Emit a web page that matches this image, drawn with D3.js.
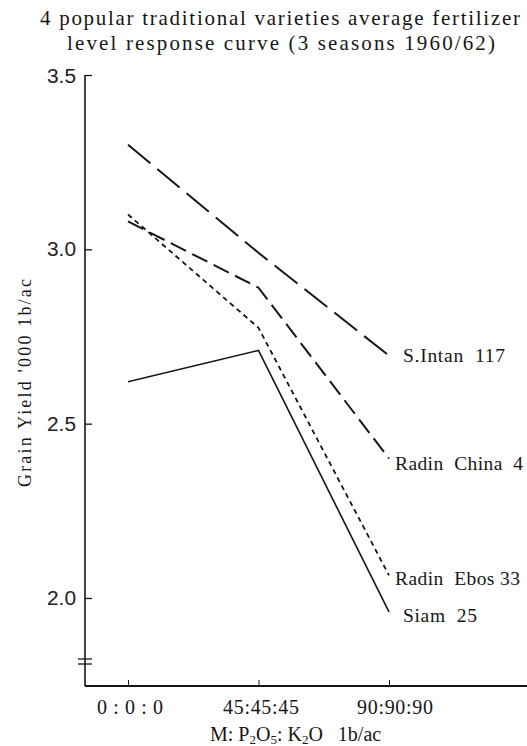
<!DOCTYPE html>
<html><head><meta charset="utf-8">
<script src="https://cdn.jsdelivr.net/npm/d3@7/dist/d3.min.js"></script>
<style>body{margin:0;background:#fff}svg{display:block}</style>
</head><body><svg id="c" width="527" height="746" font-family="'Liberation Serif','DejaVu Serif',serif"></svg>
<script>
const categories = ["0 : 0 : 0", "45:45:45", "90:90:90"];
const yTicks = [2.0, 2.5, 3.0, 3.5];
const yTickLabels = ["2.0", "2.5", "3.0", "3.5"];
const seriesNames = ["S.Intan  117", "Radin  China  4", "Radin  Ebos 33", "Siam  25"];
const sIntan = [3.30, 2.99, 2.695];
const radinChina = [3.08, 2.89, 2.40];
const radinEbos = [3.10, 2.775, 2.065];
const siam = [2.62, 2.71, 1.96];
const title = ["4 popular traditional varieties average fertilizer", "level response curve (3 seasons 1960/62)"];

const svg = d3.select("#c");
const ink = "#161616";
const x = d3.scalePoint().domain(categories).range([128, 389]);
const y = d3.scaleLinear().domain([2.0, 3.5]).range([598, 75]);
const axisX = 85, baseY = 686;

// title
const tpos = [{x: 40, y: 25, w: 480}, {x: 67, y: 50, w: 428}];
svg.selectAll("text.title").data(title).join("text").attr("class","title")
  .attr("x", (d,i)=>tpos[i].x).attr("y", (d,i)=>tpos[i].y)
  .attr("textLength", (d,i)=>tpos[i].w).attr("lengthAdjust","spacing")
  .style("font-size","21px").attr("fill", ink).text(d=>d);

// y axis
const yAxis = d3.axisRight(y).tickValues(yTicks).tickSize(7).tickFormat("");
const gy = svg.append("g").attr("transform",`translate(${axisX},0)`).call(yAxis);
gy.select(".domain").remove();
gy.selectAll("line").attr("stroke",ink).attr("stroke-width",1.3);
svg.append("line").attr("x1",axisX).attr("x2",axisX).attr("y1",y(3.5)).attr("y2",baseY)
  .attr("stroke",ink).attr("stroke-width",1.6);
svg.selectAll("text.yl").data(yTicks).join("text").attr("class","yl")
  .attr("x", axisX-38).attr("y", (d,i)=>y(d)+ (d===3.5?8:7))
  .attr("textLength", 29).attr("lengthAdjust","spacingAndGlyphs")
  .style("font-family","'Liberation Sans','DejaVu Sans',sans-serif").style("font-size","20px")
  .attr("fill", "#222").text((d,i)=>yTickLabels[i]);
// break marks
[659,664].forEach(v=>svg.append("line").attr("x1",78).attr("x2",92).attr("y1",v).attr("y2",v)
  .attr("stroke",ink).attr("stroke-width",1.3));

// x axis
svg.append("line").attr("x1",axisX).attr("x2",527).attr("y1",baseY).attr("y2",baseY)
  .attr("stroke",ink).attr("stroke-width",1.8);
const gx = svg.append("g").attr("transform",`translate(0,${baseY})`)
  .call(d3.axisTop(x).tickSize(6).tickFormat(""));
gx.select(".domain").remove();
gx.selectAll("line").attr("stroke",ink).attr("stroke-width",1);
const xlw = [66, 76, 76];
const xlx = [97, 223, 357];
svg.selectAll("text.xl").data(categories).join("text").attr("class","xl")
  .attr("x", (d,i)=>xlx[i]).attr("y", 714)
  .attr("textLength",(d,i)=>xlw[i]).attr("lengthAdjust","spacing")
  .style("font-size","20px").attr("fill", ink).text(d=>d);

// axis titles
const xt = svg.append("text").attr("x",210).attr("y",741)
  .style("font-size","20px").attr("fill", ink);
xt.append("tspan").text("M: P");
xt.append("tspan").attr("dy",3).style("font-size","13px").text("2");
xt.append("tspan").attr("dy",-3).text("O");
xt.append("tspan").attr("dy",3).style("font-size","13px").text("5");
xt.append("tspan").attr("dy",-3).text(": K");
xt.append("tspan").attr("dy",3).style("font-size","13px").text("2");
xt.append("tspan").attr("dy",-3).text("O\u00a0\u00a0\u00a01b/ac");

svg.append("text").attr("transform","translate(31,487) rotate(-90)")
  .attr("textLength", 208).attr("lengthAdjust","spacing")
  .style("font-size","18px").attr("fill", ink).text("Grain Yield '000 1b/ac");

// series
const series = [
  {name: seriesNames[0], vals: sIntan, dash: "29,9", w: 2, lx: 403, ly: 362, lw: 102},
  {name: seriesNames[1], vals: radinChina, dash: "17,7", w: 2, lx: 395, ly: 470, lw: 128},
  {name: seriesNames[2], vals: radinEbos, dash: "5,4", w: 1.8, lx: 395, ly: 585, lw: 125},
  {name: seriesNames[3], vals: siam, dash: null, w: 1.6, lx: 403, ly: 622, lw: 74}
];
const line = d3.line().x((d,i)=>x(categories[i])).y(d=>y(d));
svg.selectAll("path.s").data(series).join("path").attr("class","s")
  .attr("d", d=>line(d.vals)).attr("fill","none").attr("stroke",ink)
  .attr("stroke-width", d=>d.w).attr("stroke-dasharray", d=>d.dash);
svg.selectAll("text.sl").data(series).join("text").attr("class","sl")
  .attr("x", d=>d.lx).attr("y", d=>d.ly).style("font-size","19.5px")
  .attr("textLength", d=>d.lw).attr("lengthAdjust","spacing")
  .attr("fill", ink)
  .text(d=>d.name.replace(/  /g, "\u00a0\u00a0"));
</script></body></html>
